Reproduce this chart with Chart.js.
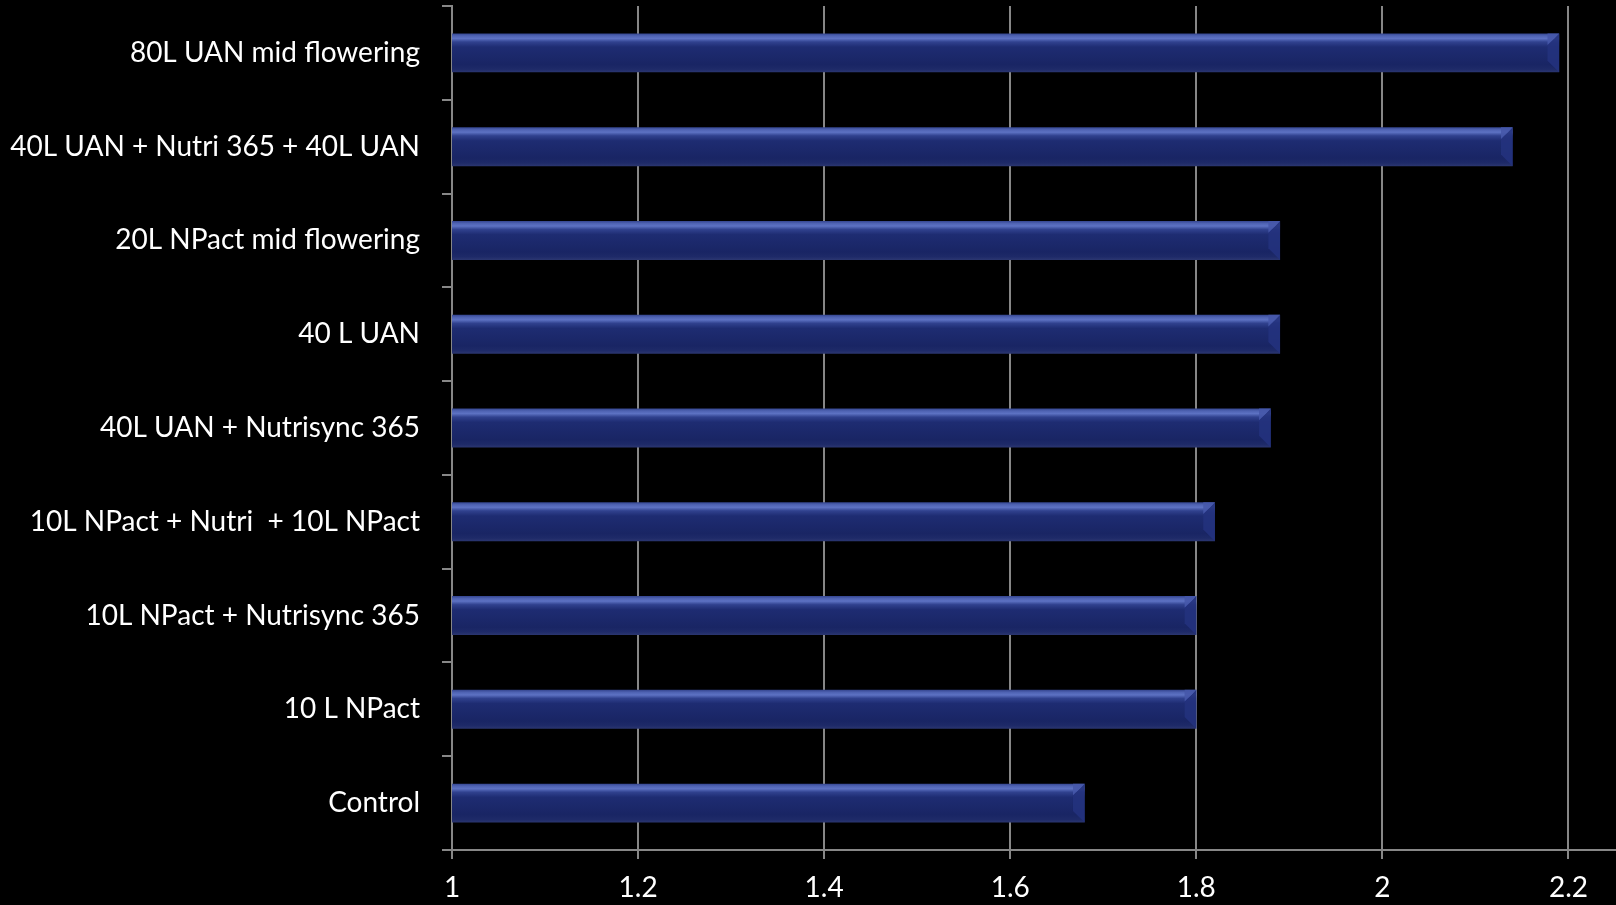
<!DOCTYPE html>
<html>
<head>
<meta charset="utf-8">
<script src="https://cdn.jsdelivr.net/npm/chart.js@4/dist/chart.umd.min.js"></script>
<style>
html,body{margin:0;padding:0;background:#000;}
#wrap{width:1616px;height:905px;position:relative;}
</style>
</head>
<body>
<div id="wrap"><canvas id="c"></canvas></div>
<script>
const categories = [
  "80L UAN mid flowering",
  "40L UAN + Nutri 365 + 40L UAN",
  "20L NPact mid flowering",
  "40 L UAN",
  "40L UAN + Nutrisync 365",
  "10L NPact + Nutri  + 10L NPact",
  "10L NPact + Nutrisync 365",
  "10 L NPact",
  "Control"
];
const values = [2.19, 2.14, 1.89, 1.89, 1.88, 1.82, 1.80, 1.80, 1.68];
const xMin = 1, xMax = 2.25, xStep = 0.2;

const BAR_FRACTION = 0.415;
const GRID = '#878787';
const FONT = 'Lato, "Open Sans", sans-serif';

function barGradient(ctx) {
  const chart = ctx.chart;
  if (!chart.chartArea || !chart.scales.y) return '#1b286a';
  const ys = chart.scales.y;
  const yc = ys.getPixelForValue(ctx.dataIndex);
  const h = (ys.height / categories.length) * BAR_FRACTION;
  const g = chart.ctx.createLinearGradient(0, yc - h / 2, 0, yc + h / 2);
  g.addColorStop(0, '#34458f');
  g.addColorStop(0.06, '#4e62b2');
  g.addColorStop(0.13, '#5d72c3');
  g.addColorStop(0.22, '#30418e');
  g.addColorStop(0.35, '#1e2c72');
  g.addColorStop(0.8, '#192564');
  g.addColorStop(0.92, '#1e2a68');
  g.addColorStop(1, '#2b3670');
  return g;
}

const bevelPlugin = {
  id: 'bevel',
  afterDatasetsDraw(chart) {
    const c = chart.ctx;
    const meta = chart.getDatasetMeta(0);
    meta.data.forEach(el => {
      const p = el.getProps(['x', 'y', 'base', 'height'], true);
      const top = p.y - p.height / 2, bot = p.y + p.height / 2;
      const b = Math.min(12, p.height * 0.3);
      c.save();
      c.beginPath();
      c.moveTo(p.x - b, top + b);
      c.lineTo(p.x, top);
      c.lineTo(p.x, bot);
      c.lineTo(p.x - b, bot - b);
      c.closePath();
      c.fillStyle = 'rgba(36,50,125,0.9)';
      c.fill();
      c.beginPath();
      c.moveTo(p.x - b, top);
      c.lineTo(p.x, top);
      c.lineTo(p.x - b, top + b);
      c.closePath();
      c.fillStyle = 'rgba(70,88,170,0.9)';
      c.fill();
      c.beginPath();
      c.moveTo(p.base, top);
      c.lineTo(p.base + b, top + b);
      c.lineTo(p.base + b, bot - b);
      c.lineTo(p.base, bot);
      c.closePath();
      c.fillStyle = 'rgba(25,36,100,0.9)';
      c.fill();
      c.restore();
    });
  }
};

new Chart(document.getElementById('c'), {
  type: 'bar',
  data: {
    labels: categories,
    datasets: [{
      data: values,
      backgroundColor: barGradient,
      borderWidth: 0,
      barPercentage: BAR_FRACTION,
      categoryPercentage: 1.0
    }]
  },
  options: {
    indexAxis: 'y',
    responsive: true,
    maintainAspectRatio: false,
    animation: false,
    devicePixelRatio: 1,
    layout: { padding: { top: 6, right: 1, left: 0, bottom: 0 } },
    plugins: { legend: { display: false }, tooltip: { enabled: false } },
    scales: {
      x: {
        type: 'linear',
        min: xMin,
        max: xMax,
        afterFit(scale) { scale.height = 55; scale.paddingLeft = 0; scale.paddingRight = 0; },
        ticks: {
          stepSize: xStep,
          includeBounds: false,
          color: '#ffffff',
          font: { family: FONT, size: 28 },
          padding: 12,
          maxRotation: 0,
          callback: v => Math.round(v * 10) / 10
        },
        grid: {
          color: GRID,
          lineWidth: 2,
          tickLength: 9,
          drawTicks: true
        },
        border: { display: true, color: GRID, width: 2 }
      },
      y: {
        type: 'category',
        afterFit(scale) { scale.width = 452; scale.paddingTop = 0; scale.paddingBottom = 0; },
        ticks: {
          color: '#ffffff',
          font: { family: FONT, size: 28 },
          padding: 22,
          autoSkip: false
        },
        grid: {
          offset: true,
          drawOnChartArea: false,
          drawTicks: true,
          tickLength: 10,
          color: GRID,
          lineWidth: 2
        },
        border: { display: true, color: GRID, width: 2 }
      }
    }
  },
  plugins: [bevelPlugin]
});
</script>
</body>
</html>
